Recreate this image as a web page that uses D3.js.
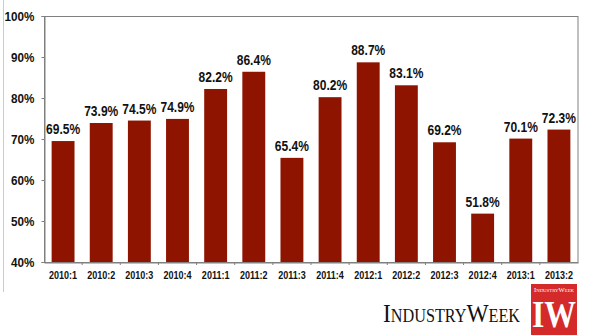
<!DOCTYPE html>
<html><head><meta charset="utf-8">
<script src="https://cdn.jsdelivr.net/npm/d3@7"></script>
<style>
html,body{margin:0;padding:0;background:#fff;}
svg{display:block;}
</style></head>
<body>
<svg id="c" width="595" height="335"></svg>
<script>
const categories = ["2010:1","2010:2","2010:3","2010:4","2011:1","2011:2","2011:3","2011:4","2012:1","2012:2","2012:3","2012:4","2013:1","2013:2"];
const values = [69.5,73.9,74.5,74.9,82.2,86.4,65.4,80.2,88.7,83.1,69.2,51.8,70.1,72.3];
const yTicks = [40,50,60,70,80,90,100];

const svg = d3.select("#c");
const mLeft = 44, mRight = 578, mTop = 16, mBottom = 262;
const FONT = "'Liberation Sans',Arial,Helvetica,sans-serif";

// faint page edge line
svg.append("line").attr("x1",3.5).attr("x2",3.5).attr("y1",0).attr("y2",292)
  .attr("stroke","#ccc").attr("stroke-width",1);

const x = d3.scaleBand().domain(categories).range([mLeft,mRight]).paddingInner(0.4).paddingOuter(0.2);
const y = d3.scaleLinear().domain([40,100]).range([mBottom,mTop]);

// frame
svg.append("rect").attr("x",mLeft+0.5).attr("y",mTop+0.5).attr("width",mRight-mLeft-0.5).attr("height",mBottom-mTop)
  .attr("fill","none").attr("stroke","#808080").attr("stroke-width",1);

// y axis
const ya = svg.append("g").attr("transform",`translate(${mLeft+0.5},0)`)
  .call(d3.axisLeft(y).tickValues(yTicks).tickFormat(d=>d+"%").tickSize(3).tickPadding(0));
ya.select(".domain").attr("stroke","#808080");
ya.selectAll(".tick line").attr("stroke","#808080");
ya.selectAll("text").attr("font-family",FONT).attr("font-weight","bold")
  .attr("font-size","13px").attr("fill","#111")
  .attr("x",null).attr("transform","translate(-10,0) scale(0.9,1)");

// x axis
const xa = svg.append("g").attr("transform",`translate(0,${mBottom+0.5})`)
  .call(d3.axisBottom(x).tickSize(0).tickPadding(10));
xa.select(".domain").attr("stroke","#808080");
xa.selectAll("text").attr("font-family",FONT).attr("font-weight","bold")
  .attr("font-size","11px").attr("fill","#111")
  .attr("y",null).attr("dy",null).attr("transform","translate(0,16.5) scale(0.82,1)");
// small ticks at band boundaries
svg.append("g").selectAll("line").data(categories.slice(1)).join("line")
  .attr("x1",d=>x(d)-x.step()*x.paddingInner()/2).attr("x2",d=>x(d)-x.step()*x.paddingInner()/2)
  .attr("y1",mBottom).attr("y2",mBottom+3).attr("stroke","#808080");

// bars
svg.append("g").selectAll("rect").data(values).join("rect")
  .attr("x",(d,i)=>x(categories[i])).attr("width",x.bandwidth())
  .attr("y",d=>y(d)).attr("height",d=>mBottom-y(d))
  .attr("fill","#8e1400");

// value labels
svg.append("g").selectAll("text").data(values).join("text")
  .attr("transform",(d,i)=>`translate(${x(categories[i])+x.bandwidth()/2},${y(d)-7}) scale(0.86,1)`)
  .attr("text-anchor","middle")
  .attr("font-family",FONT).attr("font-weight","bold")
  .attr("font-size","14px").attr("fill","#111")
  .text(d=>d.toFixed(1)+"%");

// IndustryWeek wordmark
svg.append("text").attr("x",383).attr("y",322)
  .attr("font-family","'Liberation Serif','DejaVu Serif',serif").attr("font-size","26px")
  .style("font-variant","small-caps").attr("fill","#111")
  .attr("textLength",137).attr("lengthAdjust","spacingAndGlyphs")
  .text("IndustryWeek");

// logo box
svg.append("rect").attr("x",531).attr("y",284).attr("width",46).attr("height",51).attr("fill","#d42a2a");
svg.append("text").attr("x",554).attr("y",291.5).attr("text-anchor","middle")
  .attr("font-family","'Liberation Serif',serif").attr("font-size","5.5px").attr("fill","#fff")
  .style("font-variant","small-caps").attr("textLength",40).attr("lengthAdjust","spacingAndGlyphs")
  .text("IndustryWeek");
svg.append("text").attr("x",554).attr("y",327).attr("text-anchor","middle")
  .attr("font-family","'Liberation Serif',serif").attr("font-weight","bold").attr("font-size","37px").attr("fill","#fff")
  .attr("textLength",44).attr("lengthAdjust","spacingAndGlyphs")
  .text("IW");
</script>
</body></html>
